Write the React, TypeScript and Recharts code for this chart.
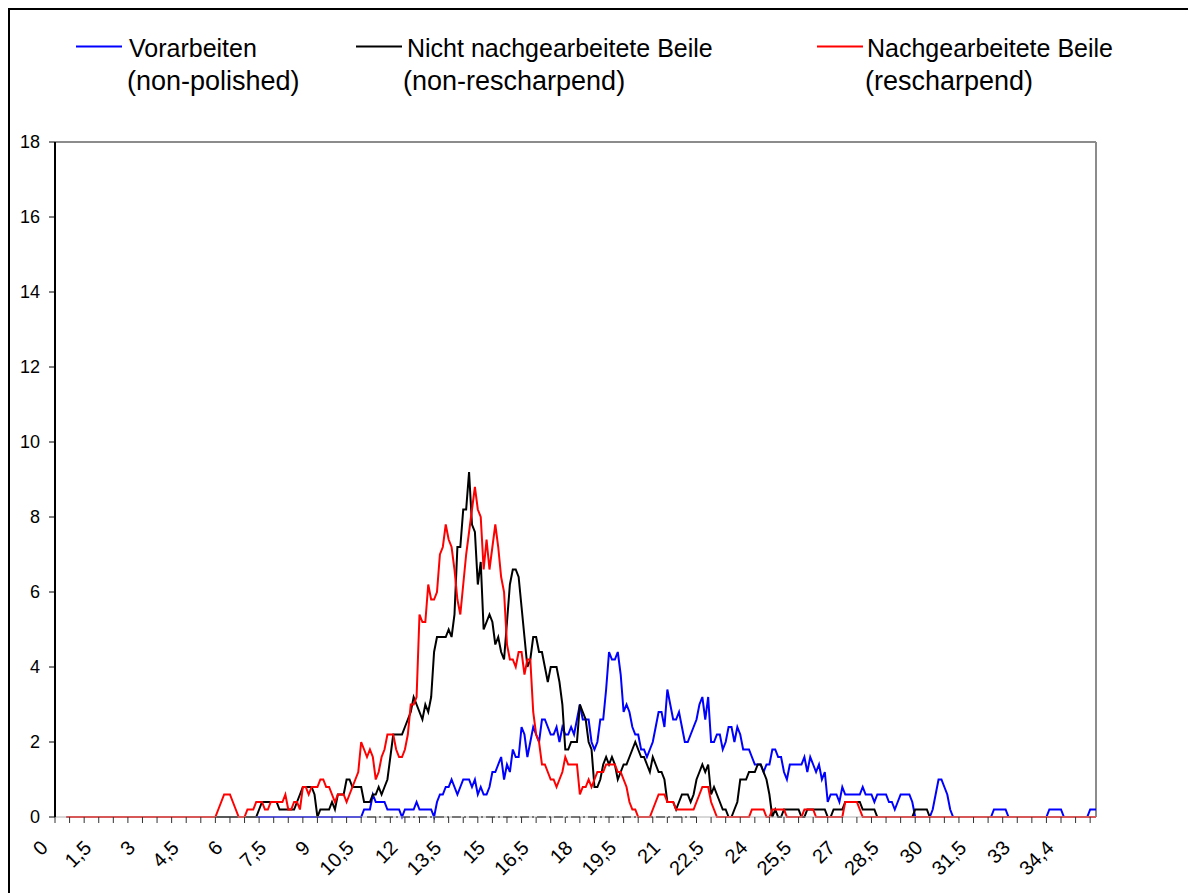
import React from 'react';
import { LineChart, Line, XAxis, YAxis, ReferenceLine } from 'recharts';

// x-axis tick labels, one every 15 categories (category step 0,1)
const xTickLabels = [
  '0', '1,5', '3', '4,5', '6', '7,5', '9', '10,5', '12', '13,5', '15', '16,5',
  '18', '19,5', '21', '22,5', '24', '25,5', '27', '28,5', '30', '31,5', '33', '34,4',
];

const yTicks = [0, 2, 4, 6, 8, 10, 12, 14, 16, 18];

// Vorarbeiten (non-polished)
const blueValues: (number | null)[] = [
  null, null, null, null, 0, 0, 0, 0, 0, 0,
  0, 0, 0, 0, 0, 0, 0, 0, 0, 0,
  0, 0, 0, 0, 0, 0, 0, 0, 0, 0,
  0, 0, 0, 0, 0, 0, 0, 0, 0, 0,
  0, 0, 0, 0, 0, 0, 0, 0, 0, 0,
  0, 0, 0, 0, 0, 0, 0, 0, 0, 0,
  0, 0, 0, 0, 0, 0, 0, 0, 0, 0,
  0, 0, 0, 0, 0, 0, 0, 0, 0, 0,
  0, 0, 0, 0, 0, 0, 0, 0, 0, 0,
  0, 0, 0, 0, 0, 0, 0, 0, 0, 0,
  0, 0, 0, 0, 0, 0, 0.2, 0.2, 0.2, 0.6,
  0.4, 0.4, 0.4, 0.4, 0.2, 0.2, 0.2, 0.2, 0.2, 0,
  0.2, 0.2, 0.2, 0.2, 0.4, 0.2, 0.2, 0.2, 0.2, 0.2,
  0, 0.4, 0.6, 0.6, 0.8, 0.8, 1.0, 0.8, 0.6, 0.8,
  1.0, 1.0, 1.0, 0.8, 1.0, 0.6, 0.8, 0.6, 0.6, 0.8,
  1.2, 1.2, 1.4, 1.6, 1.0, 1.4, 1.2, 1.8, 1.6, 1.6,
  2.4, 2.2, 1.6, 2.0, 2.4, 2.2, 2.0, 2.6, 2.6, 2.4,
  2.2, 2.2, 2.4, 2.0, 2.4, 2.2, 2.2, 2.4, 2.2, 2.6,
  3.0, 2.6, 2.6, 2.6, 2.0, 1.8, 2.0, 2.6, 2.6, 3.4,
  4.4, 4.2, 4.2, 4.4, 3.8, 2.8, 3.0, 2.8, 2.4, 2.2,
  2.2, 1.8, 1.8, 1.6, 1.8, 2.0, 2.4, 2.8, 2.8, 2.4,
  3.4, 3.0, 2.6, 2.6, 2.8, 2.4, 2.0, 2.0, 2.2, 2.4,
  2.6, 3.0, 3.2, 2.6, 3.2, 2.0, 2.0, 2.2, 2.2, 1.8,
  2.0, 2.4, 2.4, 2.0, 2.4, 2.2, 1.8, 1.8, 1.8, 1.6,
  1.4, 1.4, 1.4, 1.2, 1.4, 1.4, 1.8, 1.8, 1.6, 1.6,
  1.2, 1.0, 1.4, 1.4, 1.4, 1.4, 1.4, 1.6, 1.2, 1.6,
  1.4, 1.2, 1.4, 1.0, 1.2, 0.4, 0.6, 0.6, 0.6, 0.4,
  0.8, 0.6, 0.6, 0.6, 0.6, 0.6, 0.6, 0.8, 0.6, 0.6,
  0.6, 0.4, 0.6, 0.6, 0.6, 0.6, 0.4, 0.4, 0.2, 0.4,
  0.6, 0.6, 0.6, 0.6, 0.4, 0, 0, 0, 0, 0,
  0, 0.2, 0.6, 1.0, 1.0, 0.8, 0.6, 0.2, 0, 0,
  0, 0, 0, 0, 0, 0, 0, 0, 0, 0,
  0, 0, 0.2, 0.2, 0.2, 0.2, 0.2, 0, 0, 0,
  0, 0, 0, 0, 0, 0, 0, 0, 0, 0,
  0, 0.2, 0.2, 0.2, 0.2, 0.2, 0, 0, 0, 0,
  0, 0, 0, 0, 0, 0.2, 0.2, 0.2,
];

// Nicht nachgearbeitete Beile (non-rescharpend)
const blackValues: (number | null)[] = [
  null, null, null, null, 0, 0, 0, 0, 0, 0,
  0, 0, 0, 0, 0, 0, 0, 0, 0, 0,
  0, 0, 0, 0, 0, 0, 0, 0, 0, 0,
  0, 0, 0, 0, 0, 0, 0, 0, 0, 0,
  0, 0, 0, 0, 0, 0, 0, 0, 0, 0,
  0, 0, 0, 0, 0, 0, 0, 0, 0, 0,
  0, 0, 0, 0, 0, 0, 0, 0, 0, 0,
  0.2, 0.4, 0.4, 0.4, 0.4, 0.4, 0.4, 0.2, 0.2, 0.2,
  0.2, 0.2, 0.2, 0.4, 0.6, 0.8, 0.8, 0.8, 0.8, 0.6,
  0, 0.2, 0.2, 0.2, 0.2, 0.4, 0.2, 0.6, 0.6, 0.6,
  1.0, 1.0, 0.8, 0.8, 0.8, 0.8, 0.4, 0.4, 0.4, 0.6,
  0.6, 0.8, 0.6, 0.8, 1.0, 1.6, 2.2, 2.2, 2.2, 2.2,
  2.4, 2.6, 2.8, 3.2, 3.0, 2.8, 2.6, 3.0, 2.8, 3.2,
  4.4, 4.8, 4.8, 4.8, 4.8, 5.0, 4.8, 5.4, 7.2, 7.2,
  8.2, 8.2, 9.2, 7.8, 7.6, 6.2, 6.8, 5.0, 5.2, 5.4,
  5.2, 4.6, 4.8, 4.4, 4.2, 5.2, 6.2, 6.6, 6.6, 6.4,
  5.6, 4.8, 4.0, 4.2, 4.8, 4.8, 4.4, 4.4, 4.0, 3.6,
  4.0, 4.0, 4.0, 3.6, 3.0, 1.8, 1.8, 2.0, 2.0, 2.0,
  3.0, 2.8, 2.6, 2.0, 1.8, 0.8, 0.8, 1.0, 1.4, 1.6,
  1.4, 1.6, 1.4, 1.0, 1.2, 1.4, 1.4, 1.6, 1.8, 2.0,
  1.8, 1.6, 1.6, 1.4, 1.2, 1.6, 1.4, 1.2, 1.2, 1.0,
  0.4, 0.4, 0.4, 0.2, 0.4, 0.6, 0.6, 0.6, 0.4, 0.6,
  1.0, 1.2, 1.4, 1.2, 1.4, 0.6, 0.8, 0.6, 0.4, 0.2,
  0.2, 0, 0, 0.2, 0.4, 1.0, 1.0, 1.0, 1.2, 1.2,
  1.2, 1.4, 1.4, 1.2, 1.0, 0.6, 0, 0.2, 0, 0,
  0.2, 0.2, 0.2, 0.2, 0.2, 0.2, 0, 0, 0.2, 0.2,
  0.2, 0.2, 0.2, 0.2, 0.2, 0, 0, 0.2, 0.2, 0.2,
  0.2, 0.4, 0.4, 0.4, 0.4, 0.4, 0.4, 0.2, 0.2, 0.2,
  0.2, 0.2, 0, 0, 0, 0, 0, 0, 0, 0,
  0, 0, 0, 0, 0, 0.2, 0.2, 0.2, 0.2, 0.2,
  0, 0, 0, 0, 0, 0, 0, 0, 0, 0,
  0, 0, 0, 0, 0, 0, 0, 0, 0, 0,
  0, 0, 0, 0, 0, 0, 0, 0, 0, 0,
  0, 0, 0, 0, 0, 0, 0, 0, 0, 0,
  0, 0, 0, 0, 0, 0, 0, 0, 0, 0,
  0, 0, 0, 0, 0, 0, 0, 0,
];

// Nachgearbeitete Beile (rescharpend)
const redValues: (number | null)[] = [
  null, null, null, null, 0, 0, 0, 0, 0, 0,
  0, 0, 0, 0, 0, 0, 0, 0, 0, 0,
  0, 0, 0, 0, 0, 0, 0, 0, 0, 0,
  0, 0, 0, 0, 0, 0, 0, 0, 0, 0,
  0, 0, 0, 0, 0, 0, 0, 0, 0, 0,
  0, 0, 0, 0, 0, 0, 0.2, 0.4, 0.6, 0.6,
  0.6, 0.4, 0.2, 0, 0, 0, 0.2, 0.2, 0.2, 0.4,
  0.4, 0.4, 0.2, 0.2, 0.4, 0.4, 0.4, 0.4, 0.4, 0.6,
  0.2, 0.2, 0.4, 0.4, 0.2, 0.8, 0.8, 0.6, 0.8, 0.8,
  0.8, 1.0, 1.0, 0.8, 0.8, 0.6, 0.4, 0.6, 0.6, 0.6,
  0.4, 0.6, 0.8, 1.0, 1.2, 2.0, 1.8, 1.6, 1.8, 1.6,
  1.0, 1.2, 1.6, 1.8, 2.2, 2.2, 2.2, 1.8, 1.6, 1.6,
  1.8, 2.2, 3.0, 3.0, 3.2, 5.4, 5.2, 5.2, 6.2, 5.8,
  5.8, 6.0, 7.0, 7.2, 7.8, 7.4, 7.2, 6.6, 5.8, 5.4,
  6.2, 7.0, 7.6, 8.2, 8.8, 8.2, 8.0, 6.6, 7.4, 6.6,
  7.2, 7.8, 7.2, 6.4, 6.0, 4.6, 4.2, 4.2, 4.0, 4.4,
  4.4, 3.8, 4.2, 4.2, 2.8, 2.2, 2.0, 1.4, 1.4, 1.2,
  1.0, 1.0, 0.8, 1.0, 1.2, 1.6, 1.4, 1.4, 1.4, 1.4,
  0.6, 0.8, 0.8, 1.0, 0.8, 1.0, 1.2, 1.2, 1.2, 1.4,
  1.4, 1.4, 1.4, 1.2, 1.2, 1.0, 0.8, 0.4, 0.2, 0.2,
  0, 0, 0, 0, 0, 0.2, 0.4, 0.6, 0.6, 0.6,
  0.4, 0.4, 0.4, 0.2, 0.2, 0.2, 0.2, 0.2, 0.2, 0.2,
  0.4, 0.6, 0.8, 0.8, 0.8, 0.4, 0.2, 0, 0, 0,
  0, 0, 0, 0, 0, 0, 0, 0, 0, 0.2,
  0.2, 0.2, 0.2, 0.2, 0, 0, 0.2, 0.2, 0.2, 0.2,
  0.2, 0, 0, 0, 0, 0, 0, 0.2, 0.2, 0.2,
  0.2, 0, 0, 0, 0, 0, 0, 0, 0, 0,
  0, 0.4, 0.4, 0.4, 0.4, 0.4, 0.2, 0, 0, 0,
  0, 0, 0, 0, 0, 0, 0, 0, 0, 0,
  0, 0, 0, 0, 0, 0, 0, 0, 0, 0,
  0, 0, 0, 0, 0, 0, 0, 0, 0, 0,
  0, 0, 0, 0, 0, 0, 0, 0, 0, 0,
  0, 0, 0, 0, 0, 0, 0, 0, 0, 0,
  0, 0, 0, 0, 0, 0, 0, 0, 0, 0,
  0, 0, 0, 0, 0, 0, 0, 0, 0, 0,
  0, 0, 0, 0, 0, 0, 0, 0,
];

const categories = blueValues.map((_, i) => i);
const data = categories.map((i) => ({
  i,
  blue: blueValues[i],
  black: blackValues[i],
  red: redValues[i],
}));
const xTickPositions = categories.filter((i) => i % 5 === 0);
const lastCategory = categories[categories.length - 1];

const FONT = '"Liberation Sans", Arial, Helvetica, sans-serif';

const XTick = (props: any) => {
  const { x, y, payload } = props;
  const idx = payload.value as number;
  if (idx % 15 !== 0) return null;
  const label = xTickLabels[idx / 15];
  if (label === undefined) return null;
  const x0 = x - 6;
  const y0 = y + 24;
  return (
    <text
      x={x0}
      y={y0}
      transform={`rotate(-45, ${x0}, ${y0})`}
      textAnchor="end"
      fontSize={20}
      fontFamily={FONT}
      fill="#000"
    >
      {label}
    </text>
  );
};

const legendItems = [
  { color: '#0000ff', x1: 66, textX: 119, textX2: 117, line1: 'Vorarbeiten', line2: '(non-polished)' },
  { color: '#000000', x1: 346, textX: 397, textX2: 393, line1: 'Nicht nachgearbeitete Beile', line2: '(non-rescharpend)' },
  { color: '#ff0000', x1: 807, textX: 857, textX2: 855, line1: 'Nachgearbeitete Beile', line2: '(rescharpend)' },
];

export default function App() {
  return (
    <div
      style={{
        position: 'relative',
        width: 1186,
        height: 883,
        borderLeft: '2px solid #000',
        borderTop: '2px solid #000',
        background: '#fff',
        fontFamily: FONT,
      }}
    >
      <LineChart
        width={1186}
        height={883}
        data={data}
        margin={{ top: 132, right: 100, bottom: 0, left: 0 }}
      >
        <XAxis
          dataKey="i"
          type="category"
          ticks={xTickPositions}
          interval={0}
          height={76}
          tickSize={6}
          tickLine={{ stroke: '#333', strokeWidth: 1 }}
          axisLine={{ stroke: '#b0b0b0', strokeWidth: 1 }}
          tick={<XTick />}
        />
        <YAxis
          type="number"
          domain={[0, 18]}
          ticks={yTicks}
          interval={0}
          width={45}
          tickSize={6}
          tickMargin={9}
          axisLine={{ stroke: '#000', strokeWidth: 2 }}
          tickLine={{ stroke: '#000', strokeWidth: 1 }}
          tick={{ fontSize: 18, fill: '#000', fontFamily: FONT }}
        />
        <ReferenceLine y={18} stroke="#8c8c8c" strokeWidth={2} />
        <ReferenceLine x={lastCategory} stroke="#8c8c8c" strokeWidth={2} />
        <ReferenceLine
          segment={[{ x: 107, y: 0 }, { x: 220, y: 0 }]}
          stroke="#000"
          strokeWidth={1.5}
          strokeDasharray="9 3 2 3"
        />
        <Line
          type="linear"
          dataKey="blue"
          stroke="#0000ff"
          strokeWidth={2}
          dot={false}
          isAnimationActive={false}
        />
        <Line
          type="linear"
          dataKey="black"
          stroke="#000000"
          strokeWidth={2}
          dot={false}
          isAnimationActive={false}
        />
        <Line
          type="linear"
          dataKey="red"
          stroke="#ff0000"
          strokeWidth={2}
          dot={false}
          isAnimationActive={false}
        />
      </LineChart>
      <svg
        width={1186}
        height={120}
        style={{ position: 'absolute', left: 0, top: 0, pointerEvents: 'none' }}
      >
        {legendItems.map((it) => (
          <g key={it.line1}>
            <line x1={it.x1} x2={it.x1 + 46} y1={36.5} y2={36.5} stroke={it.color} strokeWidth={2} />
            <text x={it.textX} y={47} fontSize={25} fontFamily={FONT} fill="#000">
              {it.line1}
            </text>
            <text x={it.textX2} y={80} fontSize={27} fontFamily={FONT} fill="#000">
              {it.line2}
            </text>
          </g>
        ))}
      </svg>
    </div>
  );
}
